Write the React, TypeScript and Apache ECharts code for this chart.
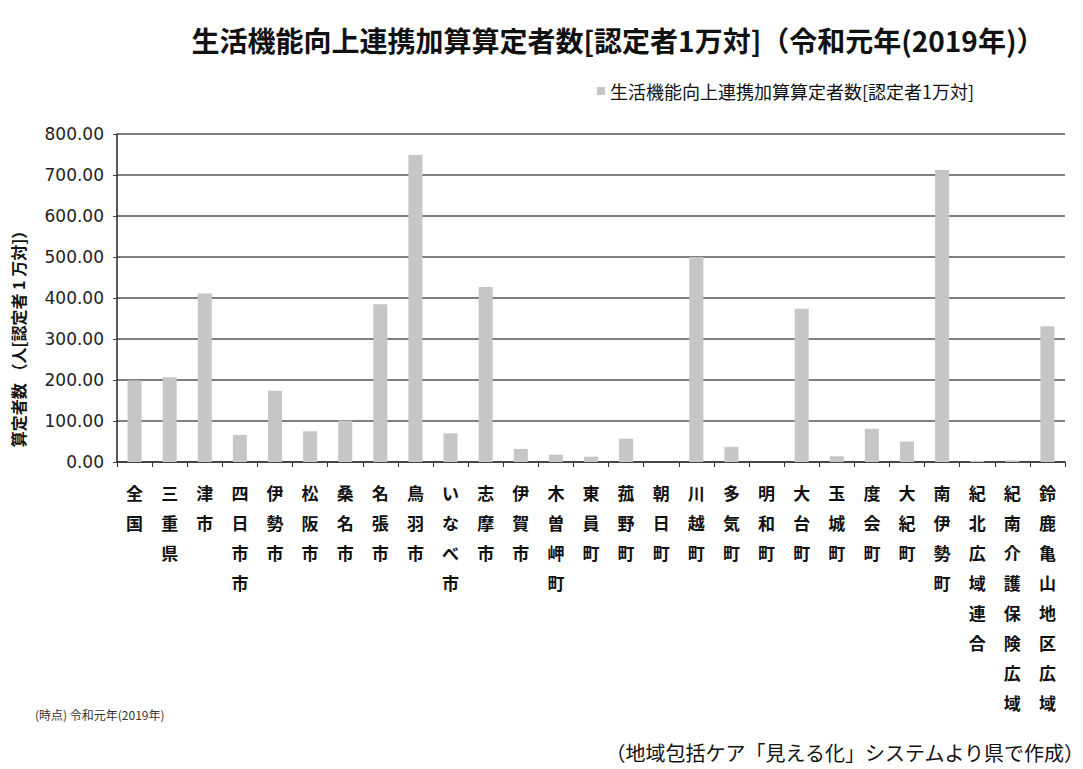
import React, { useEffect, useRef } from "react";
import * as echarts from "echarts";

const categories = [
  "全国", "三重県", "津市", "四日市市", "伊勢市", "松阪市", "桑名市", "名張市", "鳥羽市",
  "いなべ市", "志摩市", "伊賀市", "木曽岬町", "東員町", "菰野町", "朝日町", "川越町", "多気町",
  "明和町", "大台町", "玉城町", "度会町", "大紀町", "南伊勢町", "紀北広域連合", "紀南介護保険広域", "鈴鹿亀山地区広域",
];
const values = [
  199, 207, 411, 66, 174, 75, 101, 385, 749,
  70, 427, 32, 18, 13, 57, 0, 500, 37,
  0, 374, 14, 81, 50, 712, 3, 4, 331,
];
const seriesName = "生活機能向上連携加算算定者数[認定者1万対]";
const titleText = "生活機能向上連携加算算定者数[認定者1万対]（令和元年(2019年)）";
const yAxisName = "算定者数 （人[認定者 1 万対]）";
const noteLeft = "(時点) 令和元年(2019年)";
const noteRight = "（地域包括ケア「見える化」システムより県で作成）";
const yMin = 0;
const yMax = 800;
const yInterval = 100;

const FONT = '"Noto Sans CJK JP", "Noto Sans", sans-serif';

export default function App() {
  const ref = useRef<HTMLDivElement>(null);
  useEffect(() => {
    if (!ref.current) return;
    const chart = echarts.init(ref.current, undefined, { renderer: "svg" });
    chart.setOption({
      animation: false,
      backgroundColor: "#ffffff",
      textStyle: { fontFamily: FONT },
      title: {
        text: titleText,
        left: 613,
        top: 21,
        textAlign: "center",
        textStyle: { fontSize: 28, fontWeight: "bold", color: "#111", fontFamily: FONT },
      },
      legend: {
        left: 592,
        top: 77,
        icon: "rect",
        itemWidth: 8,
        itemHeight: 8,
        itemGap: 5,
        textStyle: { fontSize: 18, color: "#111", fontFamily: FONT },
        data: [seriesName],
      },
      grid: { left: 117, right: 18, top: 134, bottom: 307, containLabel: false },
      xAxis: {
        type: "category",
        data: categories,
        axisLine: { show: true, lineStyle: { color: "#333", width: 1.5 } },
        axisTick: { show: true, length: 5, lineStyle: { color: "#333" } },
        axisLabel: {
          interval: 0,
          margin: 15,
          fontSize: 17,
          fontWeight: "bold",
          lineHeight: 30,
          color: "#111",
          fontFamily: FONT,
          verticalAlign: "top",
          formatter: (v: string) => v.split("").join("\n"),
        },
      },
      yAxis: {
        type: "value",
        min: yMin,
        max: yMax,
        interval: yInterval,
        axisLine: { show: true, lineStyle: { color: "#222", width: 1.5 } },
        axisTick: { show: true, length: 4, lineStyle: { color: "#444" } },
        splitLine: { show: true, lineStyle: { color: "#555", width: 1.5 } },
        axisLabel: {
          fontSize: 17,
          color: "#222",
          margin: 13,
          fontFamily: '"DejaVu Sans", sans-serif',
          formatter: (v: number) => v.toFixed(2),
        },
      },
      series: [
        {
          name: seriesName,
          type: "bar",
          data: values,
          barWidth: "40%",
          itemStyle: { color: "#c6c6c6" },
        },
      ],
      graphic: [
        {
          type: "text",
          x: 18,
          y: 335,
          rotation: Math.PI / 2,
          style: {
            text: yAxisName,
            fontSize: 16,
            fontWeight: "bold",
            fill: "#111",
            fontFamily: FONT,
            align: "center",
            verticalAlign: "middle",
          },
        },
        {
          type: "text",
          x: 35,
          y: 714,
          style: {
            text: noteLeft,
            fontSize: 12,
            fill: "#333",
            fontFamily: FONT,
            align: "left",
            verticalAlign: "middle",
          },
        },
        {
          type: "text",
          x: 1084,
          y: 752,
          style: {
            text: noteRight,
            fontSize: 20,
            fill: "#111",
            fontFamily: FONT,
            align: "right",
            verticalAlign: "middle",
          },
        },
      ],
    });
    return () => chart.dispose();
  }, []);
  return <div ref={ref} style={{ width: 1083, height: 769, marginLeft: -8, marginTop: -8 }} />;
}
